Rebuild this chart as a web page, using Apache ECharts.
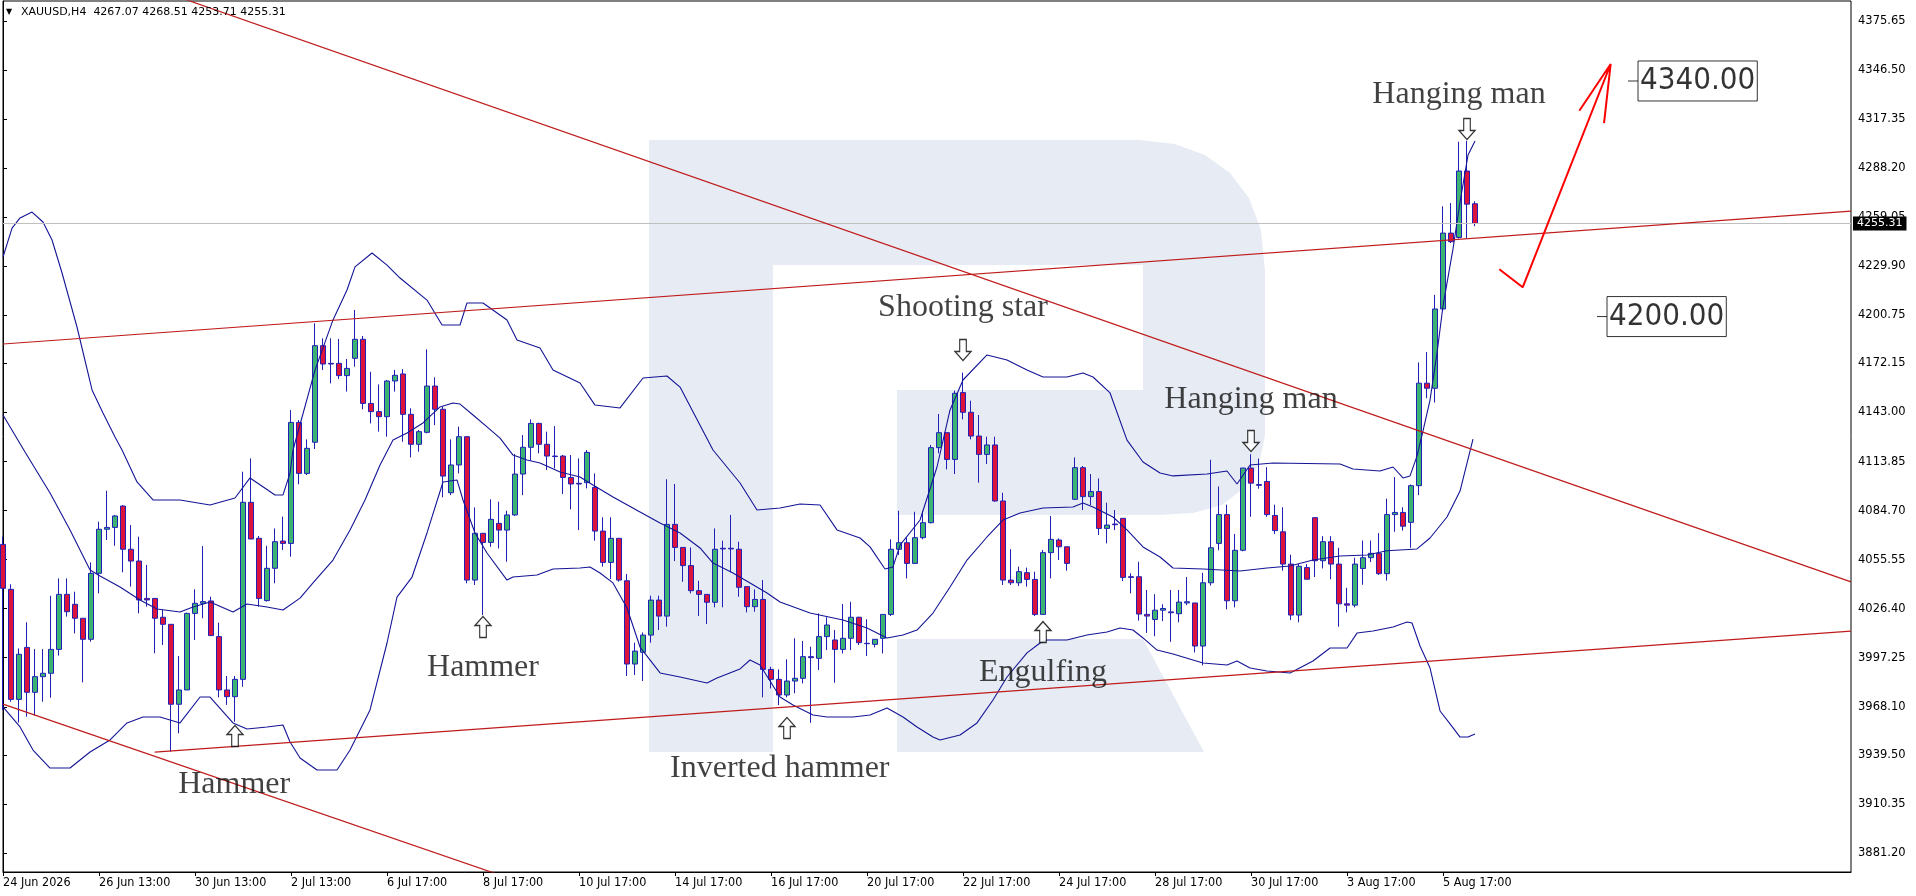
<!DOCTYPE html>
<html><head><meta charset="utf-8">
<script src="https://cdn.jsdelivr.net/npm/echarts@6/dist/echarts.min.js"></script>
<style>html,body{margin:0;padding:0;background:#fff}#c{width:1916px;height:896px}</style>
</head><body><div id="c"></div>
<script>
const timeLabels = ["24 Jun 2026","26 Jun 13:00","30 Jun 13:00","2 Jul 13:00","6 Jul 17:00","8 Jul 17:00","10 Jul 17:00","14 Jul 17:00","16 Jul 17:00","20 Jul 17:00","22 Jul 17:00","24 Jul 17:00","28 Jul 17:00","30 Jul 17:00","3 Aug 17:00","5 Aug 17:00"];

const opens = [4064.6,4037.9,3972.5,4003.4,3976.7,3986.0,3988.0,4002.2,4034.9,4029.0,4020.7,4008.2,4047.4,4073.6,4074.7,4087.4,4061.7,4054.7,4032.5,4032.5,4021.3,4017.1,3969.6,3978.1,4023.6,4029.6,4031.0,4009.8,3978.1,3974.1,3984.4,4089.6,4068.2,4031.2,4050.4,4066.6,4065.2,4137.1,4106.8,4125.3,4182.7,4172.2,4172.2,4164.9,4175.2,4186.5,4148.4,4143.5,4140.5,4161.7,4165.9,4141.9,4124.1,4131.2,4158.7,4144.9,4095.3,4111.8,4128.6,4043.4,4071.2,4065.8,4077.1,4073.1,4082.1,4106.4,4122.3,4136.5,4124.1,4117.1,4117.1,4104.4,4100.9,4101.3,4098.5,4072.5,4053.9,4068.2,4043.0,3993.5,4000.5,4010.7,4031.5,4022.0,4076.5,4062.8,4052.0,4037.1,4034.9,4030.2,4062.3,4062.3,4061.7,4039.5,4027.6,4031.9,3990.3,3984.4,3975.1,3983.4,3985.0,3997.9,3996.9,4009.8,4007.8,4002.2,4008.8,4021.3,4005.8,4005.2,4008.8,4023.0,4061.7,4065.6,4053.3,4068.6,4077.5,4122.1,4131.0,4115.1,4154.8,4143.1,4129.0,4118.1,4123.7,4090.4,4043.4,4041.8,4047.8,4043.8,4023.0,4059.7,4067.2,4063.2,4091.4,4110.2,4093.0,4096.0,4074.1,4076.7,4080.1,4045.4,4045.4,4023.0,4020.0,4025.5,4024.5,4023.4,4029.8,4029.8,4004.2,4041.8,4065.2,4082.3,4031.1,4061.1,4110.0,4100.2,4102.0,4081.8,4072.1,4052.9,4022.6,4050.8,4080.5,4054.9,4066.2,4052.9,4029.3,4028.5,4050.3,4056.7,4059.3,4047.2,4082.3,4083.6,4077.7,4099.5,4160.4,4157.4,4204.5,4249.6,4247.0,4286.5,4267.07];
const highs = [4069.2,4040.9,4002.8,4018.3,4002.4,4002.4,4034.1,4044.4,4044.4,4036.5,4020.7,4053.9,4078.1,4096.5,4082.1,4088.0,4076.1,4069.2,4052.4,4032.5,4025.6,4017.1,3998.3,4024.0,4037.9,4063.6,4033.5,4018.1,3986.4,3986.4,4107.8,4115.7,4069.6,4063.8,4074.1,4081.1,4144.5,4138.5,4127.0,4196.0,4187.1,4187.1,4186.7,4174.8,4203.9,4188.5,4167.2,4159.7,4162.3,4168.3,4168.8,4145.5,4132.6,4180.5,4163.9,4146.4,4127.0,4134.6,4129.0,4086.6,4071.2,4091.4,4090.0,4084.6,4118.3,4129.6,4138.9,4136.9,4131.6,4134.9,4117.7,4117.7,4115.7,4120.7,4106.8,4080.7,4080.7,4068.2,4047.0,4006.2,4012.3,4034.1,4034.1,4103.3,4100.5,4062.8,4062.8,4043.0,4034.9,4074.1,4066.8,4082.1,4066.2,4039.5,4037.9,4043.4,3991.9,3990.3,3996.3,4008.8,4007.2,4003.8,4023.6,4021.3,4013.7,4029.2,4030.5,4021.6,4020.1,4008.2,4023.0,4067.6,4084.6,4068.8,4084.0,4084.6,4123.7,4142.1,4131.0,4156.0,4166.7,4150.0,4141.5,4128.6,4128.6,4095.3,4061.7,4051.4,4050.8,4048.4,4061.3,4081.5,4068.2,4063.2,4116.3,4111.2,4106.4,4103.8,4089.4,4085.0,4080.1,4047.4,4054.3,4037.5,4035.0,4029.0,4037.5,4037.5,4045.2,4029.8,4047.7,4114.9,4099.0,4088.2,4070.8,4110.0,4118.2,4115.6,4110.5,4088.2,4086.7,4058.5,4052.9,4052.9,4080.5,4069.5,4069.5,4062.6,4038.8,4056.7,4066.9,4066.9,4071.3,4091.8,4104.6,4086.7,4100.2,4172.7,4178.9,4212.9,4265.5,4267.5,4303.9,4304.4,4268.51];
const lows = [3966.2,3971.1,3958.7,3962.2,3962.8,3971.1,3973.5,3998.5,4021.7,4011.7,3982.6,4006.8,4035.5,4067.2,4063.8,4048.0,4039.5,4023.6,4027.6,3999.9,4004.8,3941.4,3952.3,3978.1,4007.8,4020.7,4010.4,3973.7,3969.2,3959.2,3980.0,4067.8,4027.6,4030.6,4041.5,4061.3,4057.3,4100.3,4105.8,4121.3,4168.3,4160.3,4162.9,4155.4,4170.2,4144.9,4136.5,4131.6,4128.6,4155.4,4125.6,4116.3,4119.7,4130.6,4135.5,4092.6,4093.9,4106.8,4041.5,4040.5,4022.6,4063.2,4062.2,4054.3,4081.5,4093.9,4114.4,4118.7,4108.8,4109.8,4094.5,4085.4,4073.1,4097.9,4066.8,4051.4,4044.0,4042.4,3986.4,3987.0,3983.4,4006.2,4013.7,4015.7,4054.7,4042.4,4035.5,4022.0,4017.3,4027.2,4027.2,4048.0,4033.5,4024.2,4024.6,3973.7,3979.0,3969.1,3973.7,3976.1,3982.0,3958.6,3989.9,4001.8,3982.4,3999.8,4001.8,4004.8,3998.3,4003.4,3999.8,4022.0,4058.3,4044.4,4053.3,4067.6,4077.1,4118.7,4109.2,4106.4,4138.9,4127.0,4101.3,4112.4,4090.0,4040.5,4040.5,4039.9,4039.5,4022.0,4023.0,4044.4,4055.3,4049.0,4091.0,4085.0,4088.0,4070.2,4065.2,4073.1,4042.8,4035.5,4019.3,4012.0,4010.0,4019.0,4006.7,4018.3,4028.5,4000.4,3992.7,4040.1,4061.1,4026.0,4027.2,4060.5,4081.0,4097.7,4081.0,4070.8,4049.0,4019.6,4018.3,4043.9,4045.2,4050.3,4043.9,4015.7,4024.2,4027.2,4040.6,4054.1,4046.5,4043.1,4072.1,4072.8,4062.6,4093.9,4151.5,4148.9,4203.5,4243.7,4246.3,4246.3,4253.71];
const closes = [4038.5,3972.5,3999.3,3976.7,3986.0,3988.0,4002.2,4034.9,4024.6,4020.7,4008.2,4047.4,4073.6,4074.7,4081.5,4061.7,4054.7,4031.6,4031.6,4020.7,4017.1,3969.6,3978.1,4023.6,4029.6,4030.6,4010.4,3978.1,3974.1,3984.4,4089.6,4067.8,4032.5,4050.4,4066.2,4065.2,4137.1,4106.8,4121.7,4182.7,4171.8,4171.8,4164.9,4169.2,4186.5,4148.4,4143.5,4140.5,4161.7,4165.1,4141.9,4124.1,4131.6,4158.7,4144.9,4105.2,4111.8,4128.6,4043.4,4071.2,4065.8,4079.5,4073.1,4082.1,4106.4,4122.3,4136.5,4124.1,4117.1,4116.8,4104.4,4100.5,4100.5,4119.3,4072.5,4053.9,4068.2,4043.4,3993.5,4001.2,4010.7,4031.5,4022.0,4076.5,4062.8,4052.0,4037.1,4034.9,4030.2,4061.7,4061.9,4061.9,4039.1,4027.6,4031.9,3990.3,3984.4,3975.1,3983.4,3985.0,3997.9,3997.3,4009.8,4016.7,4002.2,4008.8,4021.3,4006.2,4005.6,4008.2,4023.0,4061.7,4065.6,4053.3,4068.6,4077.5,4122.1,4131.0,4115.1,4154.4,4143.1,4129.0,4118.1,4123.7,4090.4,4043.4,4041.8,4048.4,4043.8,4023.0,4059.7,4067.6,4063.2,4053.3,4110.2,4093.0,4096.0,4074.1,4076.1,4076.3,4045.0,4045.0,4023.2,4022.0,4025.5,4026.5,4024.0,4030.3,4030.5,4004.2,4041.8,4062.6,4082.3,4031.1,4061.1,4110.0,4101.0,4099.7,4082.3,4072.8,4052.9,4022.6,4051.6,4043.9,4054.9,4066.2,4052.9,4029.3,4028.5,4052.9,4056.7,4059.3,4047.2,4082.3,4083.6,4075.4,4099.5,4160.4,4157.4,4204.5,4249.6,4244.5,4286.5,4266.8,4255.31];

const upperBand = [[0,4235.4],[1.13,4252.6],[2.13,4258.6],[3.63,4262.1],[5.0,4256.2],[6.13,4245.5],[7.38,4225.9],[9.25,4193.8],[11.13,4156.4],[12.5,4142.7],[14.0,4128.4],[14.88,4120.7],[16.75,4101.7],[18.75,4091.0],[22.13,4091.0],[25.88,4088.0],[29.0,4092.2],[30.88,4104.1],[34.0,4094.0],[35.0,4094.0],[35.88,4107.0],[36.25,4120.7],[39.0,4168.2],[41.25,4198.0],[43.0,4215.8],[44.0,4229.5],[46.13,4237.8],[48.0,4230.6],[49.63,4222.9],[53.0,4209.8],[54.88,4195.0],[57.13,4195.0],[58.0,4208.1],[60.0,4208.1],[63.0,4198.0],[64.25,4186.1],[67.13,4181.3],[68.75,4168.2],[72.13,4160.5],[74.0,4147.4],[77.13,4145.7],[80.0,4163.5],[83.0,4164.7],[84.63,4158.1],[88.75,4120.7],[92.13,4101.1],[94.25,4085.0],[97.13,4086.2],[99.63,4088.6],[102.13,4088.0],[104.25,4073.2],[107.13,4068.4],[108.38,4063.1],[110.25,4050.0],[111.25,4051.2],[112.13,4064.2],[114.63,4079.1],[116.75,4110.6],[118.38,4144.5],[120.0,4162.3],[123.0,4177.2],[125.5,4174.2],[128.0,4168.2],[130.0,4164.1],[133.0,4164.1],[135.0,4166.5],[136.25,4164.1],[138.38,4154.6],[140.5,4126.6],[142.5,4113.6],[144.63,4107.0],[146.25,4105.3],[150.5,4106.4],[153.0,4108.2],[154.25,4100.5],[155.88,4111.8],[158.75,4113.0],[167.13,4112.4],[168.75,4109.4],[172.13,4108.2],[173.75,4110.6],[175.0,4104.1],[175.88,4105.3],[176.75,4117.1],[177.5,4132.0],[178.38,4150.4],[179.25,4178.3],[180.0,4206.3],[181.25,4240.2],[182.13,4268.1],[183.13,4296.0],[184.0,4304.3]];
const middleBand = [[0,4141.5],[2.75,4119.5],[5.88,4095.1],[8.38,4073.2],[10.88,4049.4],[12.13,4045.8],[14.63,4039.3],[17.13,4031.6],[19.25,4026.2],[22.13,4024.4],[23.75,4027.4],[25.88,4030.4],[28.75,4024.4],[30.5,4029.2],[33.0,4027.4],[35.0,4025.6],[37.13,4032.7],[38.75,4041.7],[41.25,4055.3],[43.38,4073.2],[45.25,4091.0],[47.13,4111.8],[48.75,4126.6],[50.5,4130.8],[52.5,4136.8],[54.63,4146.3],[56.25,4148.6],[57.13,4148.0],[58.75,4141.5],[60.5,4134.4],[62.13,4127.8],[63.75,4117.7],[65.5,4114.8],[67.13,4113.0],[69.63,4107.6],[72.13,4104.7],[73.75,4099.9],[76.25,4092.8],[79.63,4083.9],[82.13,4077.3],[84.63,4071.4],[87.13,4062.5],[88.75,4053.5],[91.25,4047.6],[93.38,4041.7],[95.5,4035.7],[97.13,4030.4],[100.88,4023.8],[105.0,4019.7],[108.0,4014.9],[110.5,4009.0],[112.5,4010.8],[114.25,4013.7],[116.25,4023.8],[118.38,4039.3],[120.5,4055.3],[123.0,4069.0],[125.0,4079.1],[127.13,4083.3],[130.0,4086.2],[133.75,4086.8],[135.0,4089.2],[136.25,4086.8],[138.75,4080.9],[140.5,4073.2],[142.5,4063.1],[144.63,4057.1],[146.25,4050.6],[150.0,4050.0],[154.63,4048.8],[158.0,4050.6],[160.88,4051.8],[163.75,4055.3],[167.13,4057.7],[170.5,4058.3],[173.0,4060.8],[176.75,4061.9],[178.38,4068.4],[180.5,4080.9],[182.13,4096.3],[183.75,4127.2]];
const lowerBand = [[0,3968.0],[2.13,3956.1],[3.75,3942.4],[5.88,3931.7],[8.38,3931.7],[10.88,3941.2],[13.38,3948.4],[15.5,3958.5],[17.5,3962.0],[19.63,3962.0],[22.13,3958.5],[24.63,3973.9],[25.88,3973.9],[28.75,3958.5],[30.5,3954.9],[33.0,3956.1],[35.0,3957.3],[35.88,3947.2],[37.13,3937.7],[39.25,3930.5],[41.75,3930.5],[43.38,3942.4],[45.88,3966.2],[48.0,4006.0],[49.25,4033.3],[51.13,4045.2],[53.0,4071.4],[55.0,4101.7],[56.75,4102.9],[57.5,4091.0],[59.0,4071.4],[60.5,4059.5],[63.0,4043.4],[63.75,4045.2],[66.75,4046.4],[68.75,4050.0],[72.13,4050.6],[73.38,4051.2],[74.63,4047.6],[76.25,4041.7],[78.0,4026.8],[79.63,4003.6],[82.13,3988.2],[84.63,3985.8],[88.0,3982.2],[89.25,3985.2],[92.13,3990.6],[93.38,3995.9],[94.63,3992.9],[97.13,3973.9],[98.75,3969.2],[101.25,3963.2],[103.0,3962.0],[106.25,3962.0],[108.38,3963.2],[110.5,3967.4],[112.5,3962.0],[114.25,3956.1],[116.25,3950.1],[117.13,3948.4],[119.63,3951.3],[121.75,3958.5],[123.75,3972.1],[125.5,3985.8],[128.0,4000.1],[129.63,4006.0],[130.5,4007.8],[133.0,4007.8],[135.5,4010.8],[138.0,4012.5],[139.63,4014.9],[141.25,4013.7],[142.5,4009.0],[144.25,4001.8],[146.25,3999.5],[150.0,3994.1],[153.0,3992.9],[154.25,3995.3],[155.88,3991.1],[158.0,3989.4],[160.88,3988.2],[163.75,3995.3],[165.88,4003.0],[168.0,4003.0],[169.25,4011.9],[171.25,4013.1],[173.75,4015.5],[175.5,4018.5],[176.13,4017.9],[177.13,4004.2],[178.38,3991.1],[179.63,3965.6],[180.88,3957.9],[182.13,3950.1],[183.13,3950.1],[184.0,3951.9]];

const yTicks = [4375.65,4346.50,4317.35,4288.20,4259.05,4229.90,4200.75,4172.15,4143.00,4113.85,4084.70,4055.55,4026.40,3997.25,3968.10,3939.50,3910.35,3881.20];
const lastPrice = 4255.31;

const resistanceLine = [[22,4389.8],[231,4042.3]];
const channelTop = [[0,4183.7],[231,4262.7]];
const channelBottom = [[18.96,3941.2],[231,4013.1]];
const supportFalling = [[0,3969.7],[70,3855.2]];
const forecastPath = [[187.04,4228.1],[189.96,4217.4],[200.96,4350.1],[197.04,4322.3],[200.96,4350.1],[200.13,4314.9]];

const levelNotes = [{text:"4340.00", at:[203.75,4340.0]},{text:"4200.00", at:[199.875,4200.0]}];
const patternNotes = [
  {text:"Hammer", label:[28.9,3921.6], arrow:[29,3950.7], dir:"up"},
  {text:"Hammer", label:[60,3991.1], arrow:[60,4015.5], dir:"up"},
  {text:"Inverted hammer", label:[97.1,3931.1], arrow:[98,3955.5], dir:"up"},
  {text:"Shooting star", label:[120,4205.1], arrow:[120,4180.1], dir:"down"},
  {text:"Engulfing", label:[130,3988.2], arrow:[130,4012.5], dir:"up"},
  {text:"Hanging man", label:[156,4150.4], arrow:[156,4126.0], dir:"down"},
  {text:"Hanging man", label:[182,4331.7], arrow:[183,4311.5], dir:"down"}
];

const SLOTS = 232;
const categories = Array.from({length: SLOTS}, (_, i) => String(i));
const candles = opens.map((o, i) => [o, closes[i], lows[i], highs[i]]);
const isLabelIdx = (i) => i % 12 === 0 && i / 12 < timeLabels.length;
const UP = 'path://M8.5,0L17,9L12,9L12,21L5,21L5,9L0,9Z';
const DOWN = 'path://M5,0L12,0L12,12L17,12L8.5,21L0,12L5,12Z';
const fmt = v => v.toFixed(2);
const last = opens.length - 1;

const logoBody = [[649,140],[1140,140],[1175,144],[1205,155],[1230,173],[1249,198],[1261,230],[1265,271],[1265,435],[1259,465],[1244,488],[1222,505],[1193,513],[1159,515],[897,515],[897,390],[1143,390],[1143,265],[773,265],[773,752],[649,752]];
const logoLeg = [[897,639],[1143,639],[1204,752],[897,752]];

const chart = echarts.init(document.getElementById('c'), null, {renderer: 'canvas', width: 1916, height: 896});

const trend = (data, color, width) => ({
  type: 'line', xAxisIndex: 1, yAxisIndex: 0, data, showSymbol: false, symbol: 'none',
  lineStyle: {color, width}, z: 5, silent: true, clip: true
});
const band = (data) => ({
  type: 'line', xAxisIndex: 1, yAxisIndex: 0, data, showSymbol: false, symbol: 'none',
  lineStyle: {color: '#141496', width: 1.1}, z: 4, silent: true, clip: true
});

chart.setOption({
  animation: false,
  backgroundColor: '#ffffff',
  grid: {left: 3, right: 65, top: 1, bottom: 24, show: true, borderColor: '#000', borderWidth: 1, containLabel: false},
  graphic: [
    {type: 'polygon', silent: true, z: 0, shape: {points: logoBody}, style: {fill: '#e7ecf4'}},
    {type: 'polygon', silent: true, z: 0, shape: {points: logoLeg}, style: {fill: '#e7ecf4'}},
    {type: 'text', x: 6, y: 12, z: 10, style: {text: '\u25BC', fontSize: 8, fontFamily: 'DejaVu Sans', fill: '#000', verticalAlign: 'middle'}},
    {type: 'text', x: 21, y: 12.5, z: 10, style: {text: 'XAUUSD,H4  ' + [opens[last], highs[last], lows[last], closes[last]].map(fmt).join(' '), fontSize: 11, fontFamily: 'DejaVu Sans', fill: '#000', verticalAlign: 'middle'}}
  ],
  xAxis: [
    {type: 'category', data: categories, boundaryGap: false,
     axisLine: {show: true, lineStyle: {color: '#000', width: 1}},
     axisTick: {show: true, interval: isLabelIdx, length: 4, lineStyle: {color: '#000'}},
     axisLabel: {interval: isLabelIdx, formatter: (v) => timeLabels[Number(v) / 12] || '', align: 'left', margin: 4, fontSize: 12.5, fontFamily: 'DejaVu Sans Condensed', color: '#000'},
     splitLine: {show: false}},
    {type: 'value', min: 0, max: SLOTS - 1, show: false}
  ],
  yAxis: {type: 'value', position: 'right', min: 3869.91, max: 4387.54,
    splitLine: {show: false},
    axisLine: {show: true, lineStyle: {color: '#000'}},
    axisTick: {show: true, length: 4, lineStyle: {color: '#000'}, customValues: yTicks},
    axisLabel: {customValues: yTicks, formatter: v => fmt(v), color: '#000', fontSize: 11.5, fontFamily: 'DejaVu Sans', margin: 7}
  },
  series: [
    {type: 'candlestick', xAxisIndex: 0, yAxisIndex: 0, data: candles, barWidth: 5, z: 3, clip: true,
     itemStyle: {color: '#3cb371', color0: '#dc143c', borderColor: '#2020b8', borderColor0: '#2020b8', borderWidth: 1},
     markLine: {silent: true, symbol: ['none', 'none'], animation: false,
       lineStyle: {color: '#c0c0c0', width: 1, type: 'solid'},
       label: {show: true, position: 'end', distance: 2, formatter: fmt(lastPrice), backgroundColor: '#000', color: '#fff', fontSize: 11, fontFamily: 'DejaVu Sans', padding: [2, 4, 1, 4]},
       data: [{yAxis: lastPrice}]}},
    band(upperBand), band(middleBand), band(lowerBand),
    trend(resistanceLine, '#bf1b1b', 1.2),
    trend(channelTop, '#bf1b1b', 1.2),
    trend(channelBottom, '#bf1b1b', 1.2),
    trend(supportFalling, '#bf1b1b', 1.2),
    trend(forecastPath, '#ff0000', 2),
    {type: 'scatter', xAxisIndex: 1, yAxisIndex: 0, z: 7, silent: true, symbolSize: [16, 21],
     itemStyle: {color: '#fff', borderColor: '#000', borderWidth: 1.3},
     data: patternNotes.map(n => ({value: n.arrow, symbol: n.dir === 'up' ? UP : DOWN}))},
    {type: 'scatter', xAxisIndex: 1, yAxisIndex: 0, z: 7, silent: true, symbolSize: 1,
     itemStyle: {color: 'rgba(0,0,0,0)'},
     label: {show: true, position: 'inside', formatter: p => p.data.name, fontFamily: 'Liberation Serif', fontSize: 32, color: '#111'},
     data: patternNotes.map(n => ({name: n.text, value: n.label}))},
    {type: 'scatter', xAxisIndex: 1, yAxisIndex: 0, z: 7, silent: true, symbol: 'rect', symbolSize: [10, 1],
     itemStyle: {color: '#000'},
     label: {show: true, position: 'right', distance: 0, formatter: p => p.data.name, fontFamily: 'DejaVu Sans Condensed', fontSize: 31, lineHeight: 36, color: '#000', borderColor: '#000', borderWidth: 1, padding: [2, 2, 2, 2]},
     data: levelNotes.map(n => ({name: n.text, value: n.at}))}
  ]
});
</script>
</body></html>
